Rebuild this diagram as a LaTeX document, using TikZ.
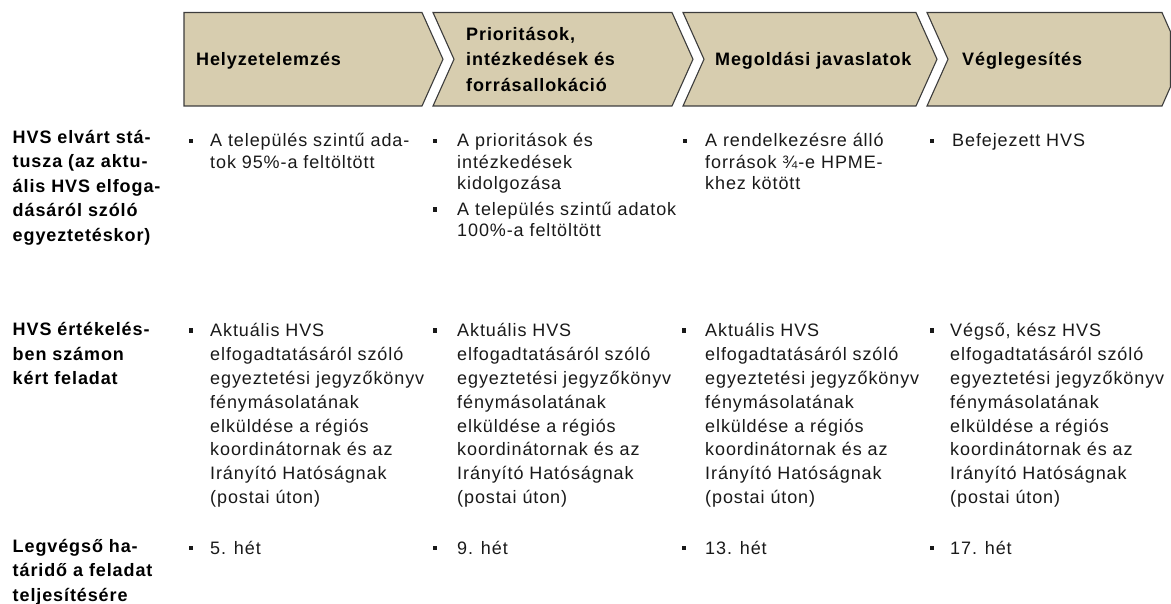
\documentclass[tikz,border=0pt]{standalone}
\usepackage{fontspec}
\setmainfont{Liberation Sans}[LetterSpace=5]
\newcommand{\mytab}[1]{\begin{tabular}[t]{@{}l@{}}#1\end{tabular}}
\definecolor{chevfill}{RGB}{215,205,175}
\definecolor{chevline}{RGB}{60,60,60}
\definecolor{txt}{RGB}{25,25,25}
\tikzset{
  chev/.style={fill=chevfill, draw=chevline, line width=1.1pt, line join=miter},
  hd/.style={anchor=base west, inner sep=0pt, text=black, font=\bfseries\fontsize{18}{25.5}\selectfont},
  lab/.style={anchor=base west, inner sep=0pt, text=black, font=\bfseries\fontsize{18}{24.5}\selectfont},
  bodyA/.style={anchor=base west, inner sep=0pt, text=txt, font=\fontsize{18}{21.5}\selectfont},
  bodyB/.style={anchor=base west, inner sep=0pt, text=txt, font=\fontsize{18}{23.9}\selectfont},
  bul/.style={rectangle, fill=txt, draw=none, minimum size=4.5pt, inner sep=0pt}
}
\begin{document}
\begin{tikzpicture}[x=1pt,y=-1pt]
\useasboundingbox (0,0) rectangle (1171,604);
% chevrons
\path[chev] (184,12.5) -- (422,12.5) -- (443,59.25) -- (422,106) -- (184,106) -- cycle;
\path[chev] (433,12.5) -- (672,12.5) -- (693,59.25) -- (672,106) -- (433,106) -- (454,59.25) -- cycle;
\path[chev] (683,12.5) -- (916,12.5) -- (937,59.25) -- (916,106) -- (683,106) -- (704,59.25) -- cycle;
\path[chev] (927,12.5) -- (1162,12.5) -- (1170.4,31.5) -- (1170.4,87) -- (1162,106) -- (927,106) -- (948,59.25) -- cycle;
% header texts
\node[hd] (h1) at (196,66) {Helyzetelemzés};
\node[hd] (h2) at (466,40.5) {\mytab{Prioritások,\\intézkedések és\\forrásallokáció}};
\node[hd] (h3) at (715,66) {Megoldási javaslatok};
\node[hd] (h4) at (962,66) {Véglegesítés};
% row labels
\node[lab] (l1) at (12.5,143.5) {\mytab{HVS elvárt stá-\\tusza (az aktu-\\ális HVS elfoga-\\dásáról szóló\\egyeztetéskor)}};
\node[lab] (l2) at (12.5,336) {\mytab{HVS értékelés-\\ben számon\\kért feladat}};
\node[lab] (l3) at (12.5,552) {\mytab{Legvégső ha-\\táridő a feladat\\teljesítésére}};
% row 1
\node[bul] (b11) at (191,141) {};
\node[bodyA] (t11) at (210,147) {\mytab{A település szintű ada-\\tok 95\%-a feltöltött}};
\node[bul] (b12a) at (435,141) {};
\node[bodyA] (t12a) at (457,147) {\mytab{A prioritások és\\intézkedések\\kidolgozása}};
\node[bul] (b12b) at (435,209.5) {};
\node[bodyA] (t12b) at (457,215.5) {\mytab{A település szintű adatok\\100\%-a feltöltött}};
\node[bul] (b13) at (685,141) {};
\node[bodyA] (t13) at (705,147) {\mytab{A rendelkezésre álló\\források ¾-e HPME-\\khez kötött}};
\node[bul] (b14) at (932,141) {};
\node[bodyA] (t14) at (952,147) {Befejezett HVS};
% row 2
\node[bul] (b21) at (191,330.5) {};
\node[bodyB] (t21) at (210,336.5) {\mytab{Aktuális HVS\\elfogadtatásáról szóló\\egyeztetési jegyzőkönyv\\fénymásolatának\\elküldése a régiós\\koordinátornak és az\\Irányító Hatóságnak\\(postai úton)}};
\node[bul] (b22) at (435,330.5) {};
\node[bodyB] (t22) at (457,336.5) {\mytab{Aktuális HVS\\elfogadtatásáról szóló\\egyeztetési jegyzőkönyv\\fénymásolatának\\elküldése a régiós\\koordinátornak és az\\Irányító Hatóságnak\\(postai úton)}};
\node[bul] (b23) at (684,330.5) {};
\node[bodyB] (t23) at (705,336.5) {\mytab{Aktuális HVS\\elfogadtatásáról szóló\\egyeztetési jegyzőkönyv\\fénymásolatának\\elküldése a régiós\\koordinátornak és az\\Irányító Hatóságnak\\(postai úton)}};
\node[bul] (b24) at (932,330.5) {};
\node[bodyB] (t24) at (950,336.5) {\mytab{Végső, kész HVS\\elfogadtatásáról szóló\\egyeztetési jegyzőkönyv\\fénymásolatának\\elküldése a régiós\\koordinátornak és az\\Irányító Hatóságnak\\(postai úton)}};
% row 3
\node[bul] (b31) at (191,548) {};
\node[bodyB] (t31) at (210,554) {5. hét};
\node[bul] (b32) at (435,548) {};
\node[bodyB] (t32) at (457,554) {9. hét};
\node[bul] (b33) at (684,548) {};
\node[bodyB] (t33) at (705,554) {13. hét};
\node[bul] (b34) at (932,548) {};
\node[bodyB] (t34) at (950,554) {17. hét};
\end{tikzpicture}
\end{document}
